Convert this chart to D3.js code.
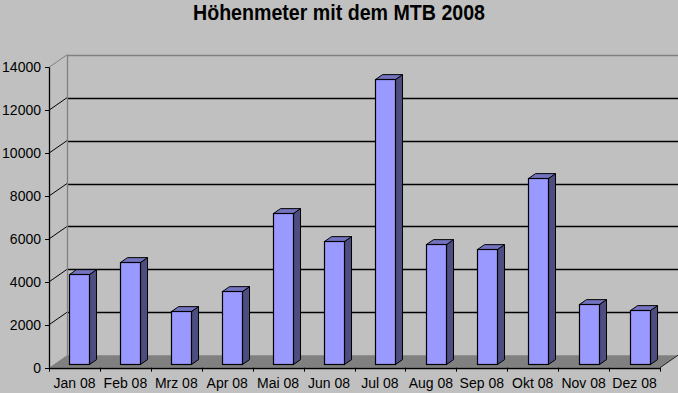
<!DOCTYPE html>
<html>
<head>
<meta charset="utf-8">
<script src="https://cdn.jsdelivr.net/npm/d3@7"></script>
<style>
  body { margin: 0; background: #c0c0c0; }
  svg { display: block; font-family: "Liberation Sans", Arial, sans-serif; }
</style>
</head>
<body>
<svg id="chart" width="678" height="393"></svg>
<script>
const months = ['Jan 08', 'Feb 08', 'Mrz 08', 'Apr 08', 'Mai 08', 'Jun 08',
  'Jul 08', 'Aug 08', 'Sep 08', 'Okt 08', 'Nov 08', 'Dez 08'];
const hoehenmeter = [4210, 4770, 2490, 3420, 7050, 5740, 13300, 5600, 5370, 8680, 2800, 2520];
const yTicks = [0, 2000, 4000, 6000, 8000, 10000, 12000, 14000];
const title = 'Höhenmeter mit dem MTB 2008';

const svg = d3.select('#chart');
const width = +svg.attr('width');

// depth of the 3d box
const DX = 18, DY = -12.5;
// bar sits between these depth fractions
const z0 = 0.28, z1 = 0.67;
const barW = 20;

const x = d3.scaleBand().domain(months).range([49, 660]);
const y = d3.scaleLinear().domain([0, 14000]).range([367.7, 67.3]);
const snap = v => Math.round(v) + 0.5;

// floor
svg.append('polygon')
  .attr('points', [[x.range()[0], y(0)], [x.range()[1], y(0)],
    [x.range()[1] + DX, y(0) + DY], [x.range()[0] + DX, y(0) + DY]].join(' '))
  .attr('fill', '#808080');

// gridlines on back wall + side wall
const grid = svg.append('g');
yTicks.filter(d => d > 0).forEach(t => {
  const col = t === 14000 ? '#808080' : '#000';
  grid.append('line')
    .attr('x1', x.range()[0] + DX).attr('x2', width)
    .attr('y1', snap(y(t) + DY)).attr('y2', snap(y(t) + DY))
    .attr('stroke', col).attr('stroke-width', 1.3);
  grid.append('line')
    .attr('x1', x.range()[0]).attr('y1', y(t))
    .attr('x2', x.range()[0] + DX).attr('y2', y(t) + DY)
    .attr('stroke', col).attr('stroke-width', 1);
});
grid.append('line')
  .attr('x1', snap(x.range()[0] + DX)).attr('x2', snap(x.range()[0] + DX))
  .attr('y1', y(14000) + DY).attr('y2', y(0) + DY)
  .attr('stroke', '#808080').attr('stroke-width', 1.3);

// bars
const bars = svg.append('g').selectAll('g')
  .data(months.map((m, i) => ({ m, v: hoehenmeter[i] })))
  .enter().append('g');

const ddx = (z1 - z0) * DX, ddy = (z1 - z0) * DY;
const fx0 = d => Math.round(x(d.m) + (x.bandwidth() - barW) / 2 + z0 * DX) + 0.5;
const fTop = d => Math.round(y(d.v) + z0 * DY) + 0.5;
const fBot = () => Math.round(y(0) + z0 * DY) + 0.5;

bars.append('polygon')
  .attr('points', d => {
    const a = fx0(d) + barW, t = fTop(d), b = fBot();
    return [[a, t], [a + ddx, t + ddy], [a + ddx, b + ddy], [a, b]].join(' ');
  })
  .attr('fill', '#4d4d80').attr('stroke', '#000').attr('stroke-width', 1);

bars.append('polygon')
  .attr('points', d => {
    const l = fx0(d), t = fTop(d);
    return [[l, t], [l + barW, t], [l + barW + ddx, t + ddy], [l + ddx, t + ddy]].join(' ');
  })
  .attr('fill', '#7373bf').attr('stroke', '#000').attr('stroke-width', 1);

bars.append('rect')
  .attr('x', fx0)
  .attr('y', fTop)
  .attr('width', barW)
  .attr('height', d => fBot() - fTop(d))
  .attr('fill', '#9999ff').attr('stroke', '#000').attr('stroke-width', 1.2);

// y axis
const yAxis = svg.append('g');
yAxis.append('line')
  .attr('x1', 49.5).attr('x2', 49.5).attr('y1', y(14000)).attr('y2', y(0))
  .attr('stroke', '#000').attr('stroke-width', 1.3);
yTicks.forEach(t => {
  yAxis.append('line')
    .attr('x1', 45).attr('x2', 49).attr('y1', snap(y(t))).attr('y2', snap(y(t)))
    .attr('stroke', '#000');
  yAxis.append('text')
    .attr('x', 41).attr('y', y(t) + 5)
    .attr('text-anchor', 'end').attr('font-size', 14).attr('fill', '#000')
    .text(t);
});

// x axis
const xAxis = svg.append('g');
xAxis.append('line')
  .attr('x1', x.range()[0]).attr('x2', x.range()[1])
  .attr('y1', snap(y(0))).attr('y2', snap(y(0)))
  .attr('stroke', '#000').attr('stroke-width', 1.3);
xAxis.append('line')
  .attr('x1', x.range()[1]).attr('y1', y(0))
  .attr('x2', x.range()[1] + DX).attr('y2', y(0) + DY)
  .attr('stroke', '#202020').attr('stroke-width', 1);
months.forEach((m, i) => {
  const tx = snap(x(m));
  xAxis.append('line')
    .attr('x1', tx).attr('x2', tx).attr('y1', y(0)).attr('y2', y(0) + 4)
    .attr('stroke', '#000');
  xAxis.append('text')
    .attr('x', x(m) + x.bandwidth() / 2).attr('y', 388)
    .attr('text-anchor', 'middle').attr('font-size', 14).attr('fill', '#000')
    .text(m);
});
xAxis.append('line')
  .attr('x1', snap(x.range()[1])).attr('x2', snap(x.range()[1])).attr('y1', y(0)).attr('y2', y(0) + 4)
  .attr('stroke', '#000');

// title
svg.append('text')
  .attr('x', width / 2).attr('y', 19.5)
  .attr('text-anchor', 'middle')
  .attr('font-size', 22).attr('font-weight', 'bold')
  .attr('textLength', 292).attr('lengthAdjust', 'spacingAndGlyphs')
  .text(title);
</script>
</body>
</html>
